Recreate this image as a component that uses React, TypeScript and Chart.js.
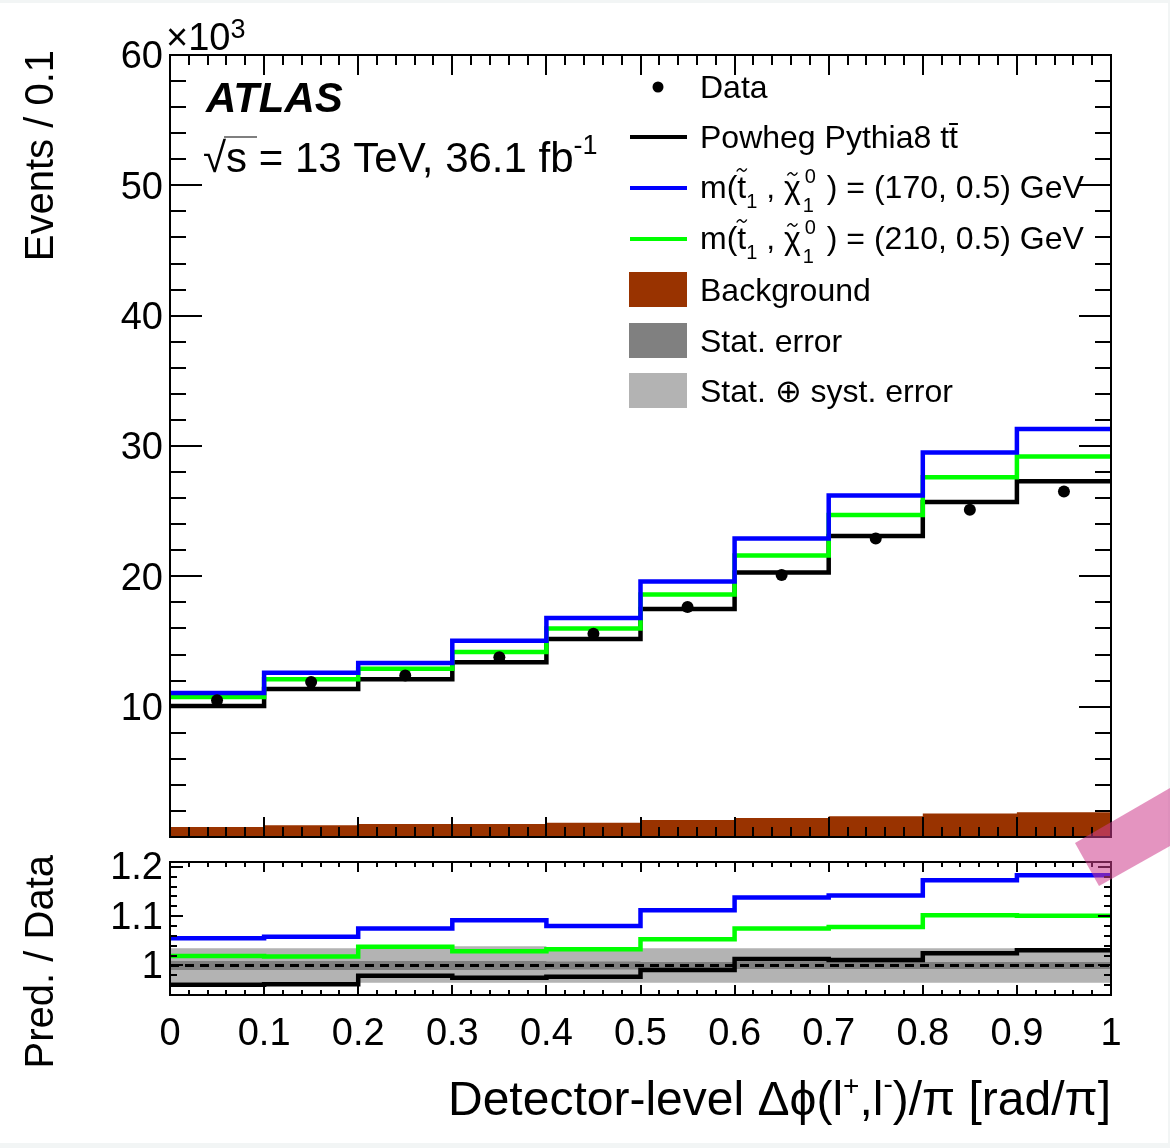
import React, { useEffect, useRef } from "react";
import { Chart, registerables } from "chart.js";

Chart.register(...registerables);

// ---------------- data (events in units of 10^3) ----------------
const binEdges = [0, 0.1, 0.2, 0.3, 0.4, 0.5, 0.6, 0.7, 0.8, 0.9, 1.0];
const binCenters = [0.05, 0.15, 0.25, 0.35, 0.45, 0.55, 0.65, 0.75, 0.85, 0.95];
const dataEvents = [10.5, 11.9, 12.4, 13.8, 15.6, 17.65, 20.1, 22.9, 25.1, 26.5];
const powhegEvents = [10.05, 11.36, 12.1, 13.4, 15.2, 17.5, 20.3, 23.1, 25.7, 27.3];
const stop170Events = [11.05, 12.6, 13.35, 15.05, 16.8, 19.6, 22.9, 26.2, 29.5, 31.3];
const stop210Events = [10.75, 12.1, 12.9, 14.2, 16.0, 18.6, 21.6, 24.7, 27.6, 29.2];
const backgroundEvents = [0.77, 0.9, 1.0, 1.0, 1.1, 1.3, 1.45, 1.6, 1.8, 1.9];

const ratioPowheg = [0.961, 0.962, 0.979, 0.975, 0.977, 0.991, 1.013, 1.011, 1.025, 1.031];
const ratioStop170 = [1.055, 1.058, 1.075, 1.092, 1.08, 1.112, 1.138, 1.142, 1.173, 1.183];
const ratioStop210 = [1.019, 1.018, 1.038, 1.029, 1.033, 1.053, 1.075, 1.078, 1.102, 1.101];
const statErrUp = [1.009, 1.009, 1.009, 1.009, 1.008, 1.007, 1.007, 1.007, 1.007, 1.007];
const statErrDown = [0.991, 0.991, 0.991, 0.991, 0.992, 0.993, 0.993, 0.993, 0.993, 0.993];
const totErrUp = [1.035, 1.035, 1.039, 1.039, 1.037, 1.035, 1.035, 1.035, 1.035, 1.035];
const totErrDown = [0.965, 0.965, 0.965, 0.965, 0.965, 0.965, 0.965, 0.965, 0.965, 0.965];
const unityLine = [1, 1];

const xTickValues = [0, 0.1, 0.2, 0.3, 0.4, 0.5, 0.6, 0.7, 0.8, 0.9, 1];
const xTickLabels = ["0", "0.1", "0.2", "0.3", "0.4", "0.5", "0.6", "0.7", "0.8", "0.9", "1"];
const mainYTickValues = [10, 20, 30, 40, 50, 60];
const mainYTickLabels = ["10", "20", "30", "40", "50", "60"];
const ratioYTickValues = [1, 1.1, 1.2];
const ratioYTickLabels = ["1", "1.1", "1.2"];

const legendData = "Data";
const legendPowheg = "Powheg Pythia8 tt";
const legendStopMasses = ["170", "210"];
const legendBackground = "Background";
const legendStat = "Stat. error";
const legendStatSyst = "Stat. \u2295 syst. error";

// ---------------- layout / style ----------------
const W = 1170;
const H = 1148;
const FONT = '"Liberation Sans", Arial, Helvetica, sans-serif';
const font = (size: number, style = "") => `${style} ${size}px ${FONT}`;
const BLUE = "#0000ff";
const GREEN = "#00ff00";
const BROWN = "#993300";
const DARKGRAY = "#808080";
const LIGHTGRAY = "#b3b3b3";
const LEG = 32;

const stepPoints = (values: number[]) =>
  values
    .map((v, i) => ({ x: binEdges[i], y: v }))
    .concat([{ x: binEdges[values.length], y: values[values.length - 1] }]);

function frameTicks(chart: any, o: any) {
  const { ctx, chartArea: a, scales } = chart;
  const xs = scales.x;
  const ys = scales.y;
  ctx.save();
  ctx.strokeStyle = "#000";
  ctx.lineWidth = 2;
  ctx.beginPath();
  for (let k = 0; k <= 50; k++) {
    const px = Math.round(xs.getPixelForValue(k * 0.02));
    const L = k % 5 === 0 ? o.xMajor : o.xMinor;
    ctx.moveTo(px, a.bottom);
    ctx.lineTo(px, a.bottom - L);
    ctx.moveTo(px, a.top);
    ctx.lineTo(px, a.top + L);
  }
  for (let k = o.yStart; k <= o.yEnd; k++) {
    const py = Math.round(ys.getPixelForValue(k * o.yStep));
    const L = k % o.yMajorEvery === 0 ? o.yMajor : o.yMinor;
    ctx.moveTo(a.left, py);
    ctx.lineTo(a.left + L, py);
    ctx.moveTo(a.right, py);
    ctx.lineTo(a.right - L, py);
  }
  ctx.stroke();
  ctx.strokeRect(a.left, a.top, a.right - a.left, a.bottom - a.top);
  ctx.restore();
}

function tilde(ctx: CanvasRenderingContext2D, cx: number, cy: number) {
  ctx.save();
  ctx.lineWidth = 1.4;
  ctx.strokeStyle = "#000";
  ctx.beginPath();
  ctx.moveTo(cx - 5, cy + 1.5);
  ctx.quadraticCurveTo(cx - 2.5, cy - 3, cx, cy);
  ctx.quadraticCurveTo(cx + 2.5, cy + 3, cx + 5, cy - 1.5);
  ctx.stroke();
  ctx.restore();
}

function drawStopLabel(ctx: CanvasRenderingContext2D, x: number, y: number, mass: string) {
  const S = LEG;
  let cx = x;
  const put = (t: string, size: number, dy: number) => {
    ctx.font = font(size);
    ctx.fillText(t, cx, y + dy);
    const w = ctx.measureText(t).width;
    cx += w;
    return w;
  };
  put("m(", S, 0);
  const tx = cx;
  const tw = put("t", S, 0);
  tilde(ctx, tx + tw / 2, y - 28);
  put("1", 20, 10);
  put(" , ", S, 0);
  const chx = cx;
  const chw = put("\u03c7", S, 0);
  tilde(ctx, chx + chw / 2, y - 24);
  const sx = cx + 4;
  ctx.font = font(20);
  ctx.fillText("0", sx, y - 15);
  ctx.fillText("1", sx - 2, y + 14);
  cx = sx + ctx.measureText("0").width + 2;
  put(" ) = (" + mass + ", 0.5) GeV", S, 0);
}

const backgroundPlugin = {
  id: "pageBg",
  beforeDraw(chart: any) {
    const ctx = chart.ctx;
    ctx.save();
    ctx.fillStyle = "#f2f5f5";
    ctx.fillRect(0, 0, W, H);
    ctx.fillStyle = "#ffffff";
    ctx.fillRect(0, 3, 1168, 1140);
    ctx.restore();
  },
};

const mainDecorPlugin = {
  id: "mainDecor",
  afterDraw(chart: any) {
    frameTicks(chart, {
      xMajor: 20, xMinor: 10,
      yStart: 0, yEnd: 30, yStep: 2, yMajorEvery: 5, yMajor: 32, yMinor: 16,
    });
    const ctx: CanvasRenderingContext2D = chart.ctx;
    ctx.save();
    ctx.fillStyle = "#000";
    ctx.textBaseline = "alphabetic";
    // y title
    ctx.save();
    ctx.translate(53, 50);
    ctx.rotate(-Math.PI / 2);
    ctx.textAlign = "right";
    ctx.font = font(40);
    ctx.fillText("Events / 0.1", 0, 0);
    ctx.restore();
    ctx.textAlign = "left";
    // x10^3
    ctx.font = font(38);
    ctx.fillText("\u00d710", 166, 50);
    const w10 = ctx.measureText("\u00d710").width;
    ctx.font = font(27);
    ctx.fillText("3", 166 + w10, 38);
    // ATLAS
    ctx.font = font(42, "italic bold");
    ctx.fillText("ATLAS", 206, 112);
    // sqrt(s) line
    ctx.font = font(42);
    ctx.fillText("\u221a", 203, 172);
    const ws = ctx.measureText("\u221a").width;
    const sx = 203 + ws - 2;
    ctx.lineWidth = 1.2;
    ctx.beginPath();
    ctx.moveTo(sx, 137);
    ctx.lineTo(sx + 33, 137);
    ctx.stroke();
    const main = "s = 13 TeV, 36.1 fb";
    ctx.fillText(main, sx + 2, 172);
    const wm = ctx.measureText(main).width;
    ctx.font = font(27);
    ctx.fillText("-1", sx + 2 + wm, 154);

    // legend
    const lx = 700;
    ctx.font = font(LEG);
    ctx.beginPath();
    ctx.arc(658, 87, 5.5, 0, Math.PI * 2);
    ctx.fill();
    ctx.fillText(legendData, lx, 98);

    const lines: [string, number][] = [["#000", 137], [BLUE, 188], [GREEN, 239]];
    ctx.lineWidth = 4;
    for (const [c, yy] of lines) {
      ctx.strokeStyle = c;
      ctx.beginPath();
      ctx.moveTo(630, yy);
      ctx.lineTo(687, yy);
      ctx.stroke();
    }
    ctx.strokeStyle = "#000";
    ctx.font = font(LEG);
    ctx.fillText(legendPowheg, lx, 148);
    const wp = ctx.measureText(legendPowheg).width;
    const wt = ctx.measureText("t").width;
    ctx.lineWidth = 2;
    ctx.beginPath();
    ctx.moveTo(lx + wp - wt, 124);
    ctx.lineTo(lx + wp, 124);
    ctx.stroke();
    ctx.fillStyle = "#000";
    drawStopLabel(ctx, lx, 198, legendStopMasses[0]);
    drawStopLabel(ctx, lx, 249, legendStopMasses[1]);

    const boxes: [string, number, string][] = [
      [BROWN, 272, legendBackground],
      [DARKGRAY, 323, legendStat],
      [LIGHTGRAY, 373, legendStatSyst],
    ];
    for (const [c, top, label] of boxes) {
      ctx.fillStyle = c;
      ctx.fillRect(629, top, 58, 35);
      ctx.fillStyle = "#000";
      ctx.font = font(LEG);
      ctx.fillText(label, lx, top + 29);
    }
    ctx.restore();
  },
};

const ratioDecorPlugin = {
  id: "ratioDecor",
  afterDraw(chart: any) {
    frameTicks(chart, {
      xMajor: 10, xMinor: 5,
      yStart: 47, yEnd: 60, yStep: 0.02, yMajorEvery: 5, yMajor: 13, yMinor: 7,
    });
    const ctx: CanvasRenderingContext2D = chart.ctx;
    ctx.save();
    ctx.fillStyle = "#000";
    ctx.textBaseline = "alphabetic";
    // y title
    ctx.save();
    ctx.translate(53, 855);
    ctx.rotate(-Math.PI / 2);
    ctx.textAlign = "right";
    ctx.font = font(40);
    ctx.fillText("Pred. / Data", 0, 0);
    ctx.restore();
    // x title (rich text), right aligned at 1111
    const S = 48;
    const segs: [string, number, number][] = [
      ["Detector-level \u0394\u03d5(l", S, 0],
      ["+", 28, -20],
      [",l", S, 0],
      ["-", 28, -22],
      [")/\u03c0 [rad/\u03c0]", S, 0],
    ];
    let total = 0;
    for (const [t, s] of segs) {
      ctx.font = font(s);
      total += ctx.measureText(t).width;
    }
    let cx = 1111 - total;
    for (const [t, s, dy] of segs) {
      ctx.font = font(s);
      ctx.fillText(t, cx, 1115 + dy);
      cx += ctx.measureText(t).width;
    }
    // pink overlay mark
    ctx.fillStyle = "rgba(205,60,140,0.55)";
    ctx.beginPath();
    ctx.moveTo(1075, 843);
    ctx.lineTo(1170, 788);
    ctx.lineTo(1170, 846);
    ctx.lineTo(1099, 886);
    ctx.closePath();
    ctx.fill();
    ctx.restore();
  },
};

function mainConfig(): any {
  return {
    type: "line",
    data: {
      datasets: [
        {
          label: "Data",
          data: binCenters.map((x, i) => ({ x, y: dataEvents[i] })),
          showLine: false,
          pointRadius: 6,
          pointBackgroundColor: "#000",
          pointBorderWidth: 0,
          borderColor: "#000",
        },
        {
          label: "170",
          data: stepPoints(stop170Events),
          borderColor: BLUE,
          borderWidth: 4.5,
          stepped: true,
          pointRadius: 0,
          fill: false,
        },
        {
          label: "210",
          data: stepPoints(stop210Events),
          borderColor: GREEN,
          borderWidth: 4.5,
          stepped: true,
          pointRadius: 0,
          fill: false,
        },
        {
          label: "Powheg",
          data: stepPoints(powhegEvents),
          borderColor: "#000",
          borderWidth: 4.5,
          stepped: true,
          pointRadius: 0,
          fill: false,
        },
        {
          label: "Background",
          data: stepPoints(backgroundEvents),
          borderWidth: 0,
          borderColor: BROWN,
          backgroundColor: BROWN,
          stepped: true,
          pointRadius: 0,
          fill: "origin",
        },
      ],
    },
    options: {
      responsive: false,
      animation: false,
      events: [],
      layout: { padding: { left: 0, right: W - 1111, top: 55, bottom: H - 837 } },
      plugins: { legend: { display: false }, tooltip: { enabled: false } },
      scales: {
        x: { type: "linear", min: 0, max: 1, display: false },
        y: {
          type: "linear",
          min: 0,
          max: 60,
          grid: { display: false, drawTicks: false },
          border: { display: false },
          afterBuildTicks: (s: any) => {
            s.ticks = mainYTickValues.map((v) => ({ value: v }));
          },
          afterFit: (s: any) => {
            s.width = 170;
          },
          ticks: {
            padding: 7,
            labelOffset: 3,
            color: "#000",
            font: { family: FONT, size: 38 },
            callback: (v: number) => mainYTickLabels[mainYTickValues.indexOf(v)] ?? "",
          },
        },
      },
    },
    plugins: [backgroundPlugin, mainDecorPlugin],
  };
}

function ratioConfig(): any {
  const line = (values: number[], color: string) => ({
    data: stepPoints(values),
    borderColor: color,
    borderWidth: 4.5,
    stepped: true,
    pointRadius: 0,
    fill: false,
  });
  const band = (values: number[], color: string, fill: any) => ({
    data: stepPoints(values),
    borderWidth: 0,
    borderColor: color,
    backgroundColor: color,
    stepped: true,
    pointRadius: 0,
    fill,
  });
  return {
    type: "line",
    data: {
      datasets: [
        {
          data: [{ x: 0, y: unityLine[0] }, { x: 1, y: unityLine[1] }],
          borderColor: "#000",
          borderWidth: 3,
          borderDash: [9, 6],
          pointRadius: 0,
          fill: false,
        },
        line(ratioStop170, BLUE),
        line(ratioStop210, GREEN),
        line(ratioPowheg, "#000"),
        band(statErrUp, DARKGRAY, "+1"),
        band(statErrDown, DARKGRAY, false),
        band(totErrUp, LIGHTGRAY, "+1"),
        band(totErrDown, LIGHTGRAY, false),
      ],
    },
    options: {
      responsive: false,
      animation: false,
      events: [],
      layout: { padding: { left: 0, right: W - 1111, top: 862, bottom: 0 } },
      plugins: { legend: { display: false }, tooltip: { enabled: false } },
      scales: {
        x: {
          type: "linear",
          min: 0,
          max: 1,
          grid: { display: false, drawTicks: false },
          border: { display: false },
          afterBuildTicks: (s: any) => {
            s.ticks = xTickValues.map((v) => ({ value: v }));
          },
          afterFit: (s: any) => {
            s.height = H - 995;
          },
          ticks: {
            padding: 17,
            autoSkip: false,
            maxRotation: 0,
            color: "#000",
            font: { family: FONT, size: 38 },
            callback: (v: number) => xTickLabels[xTickValues.indexOf(v)] ?? "",
          },
        },
        y: {
          type: "linear",
          min: 0.94,
          max: 1.21,
          grid: { display: false, drawTicks: false },
          border: { display: false },
          afterBuildTicks: (s: any) => {
            s.ticks = ratioYTickValues.map((v) => ({ value: v }));
          },
          afterFit: (s: any) => {
            s.width = 170;
          },
          ticks: {
            padding: 7,
            labelOffset: 2,
            color: "#000",
            font: { family: FONT, size: 38 },
            callback: (v: number) => ratioYTickLabels[ratioYTickValues.indexOf(v)] ?? "",
          },
        },
      },
    },
    plugins: [ratioDecorPlugin],
  };
}

export default function App() {
  const mainRef = useRef<HTMLCanvasElement>(null);
  const ratioRef = useRef<HTMLCanvasElement>(null);
  useEffect(() => {
    const main = new Chart(mainRef.current as HTMLCanvasElement, mainConfig());
    const ratio = new Chart(ratioRef.current as HTMLCanvasElement, ratioConfig());
    return () => {
      main.destroy();
      ratio.destroy();
    };
  }, []);
  const cs: React.CSSProperties = { position: "absolute", left: 0, top: 0, width: W, height: H };
  return (
    <div style={{ position: "fixed", left: 0, top: 0, width: W, height: H }}>
      <canvas ref={mainRef} width={W} height={H} style={cs} />
      <canvas ref={ratioRef} width={W} height={H} style={cs} />
    </div>
  );
}
